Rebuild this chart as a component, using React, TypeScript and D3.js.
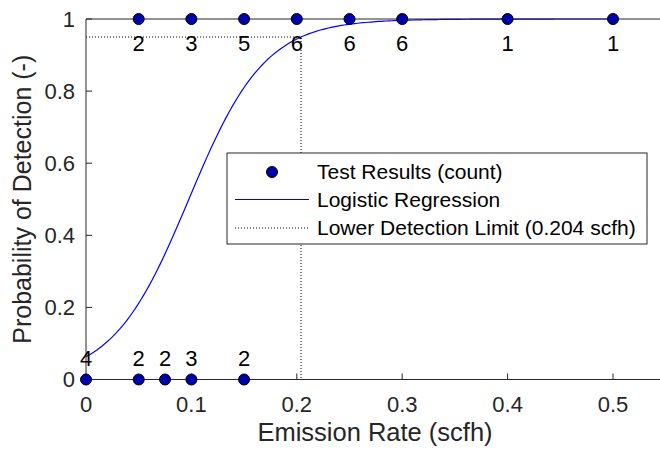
import React from "react";
import * as d3 from "d3";

// ---- data ----
const detectedRates = [0.05, 0.1, 0.15, 0.2, 0.25, 0.3, 0.4, 0.5];
const detectedCounts = [2, 3, 5, 6, 6, 6, 1, 1];
const missedRates = [0, 0.05, 0.075, 0.1, 0.15];
const missedCounts = [4, 2, 2, 3, 2];
const logisticCoefs = [-2.70, 27.67]; // intercept, slope (fitted)
const detectionLimit = 0.204;
const detectionProb = 0.95;
const xTicks = [0, 0.1, 0.2, 0.3, 0.4, 0.5];
const yTicks = [0, 0.2, 0.4, 0.6, 0.8, 1];
const legendLabels = [
  "Test Results (count)",
  "Logistic Regression",
  "Lower Detection Limit (0.204 scfh)",
];

const W = 660;
const H = 449;
const FONT = "'Liberation Sans', Arial, Helvetica, sans-serif";
const AXIS = "#262626";
const MARK = "#0000AA";

export default function App() {
  const x = d3.scaleLinear().domain([0, 0.55]).range([86, 665.7]);
  const y = d3.scaleLinear().domain([0, 1]).range([379.5, 19]);

  const curveX = d3.range(0, 0.5 + 1e-9, 0.0025);
  const logistic = (v: number) =>
    1 / (1 + Math.exp(-(logisticCoefs[0] + logisticCoefs[1] * v)));
  const line = d3
    .line<number>()
    .x((d) => x(d))
    .y((d) => y(logistic(d)));

  const lg = { x0: 227, y0: 153, x1: 647, y1: 244 };
  const rowY = [172, 199.5, 228];

  return (
    <svg
      width={W}
      height={H}
      style={{ position: "absolute", left: 0, top: 0, background: "#fff" }}
      fontFamily={FONT}
    >
      {/* dotted detection limit */}
      <path
        d={`M${x(0)},${y(detectionProb)}H${x(detectionLimit)}V${y(0)}`}
        fill="none"
        stroke="#000"
        strokeWidth={1}
        strokeDasharray="1,2"
      />
      {/* logistic curve */}
      <path d={line(curveX) || ""} fill="none" stroke="#0000FF" strokeWidth={1.2} />

      {/* axes */}
      <line x1={x(0)} x2={W} y1={y(0)} y2={y(0)} stroke={AXIS} strokeWidth={1} />
      <line x1={x(0)} x2={W} y1={y(1)} y2={y(1)} stroke={AXIS} strokeWidth={1} />
      <line x1={x(0)} x2={x(0)} y1={y(0)} y2={y(1)} stroke={AXIS} strokeWidth={1} />
      {xTicks.map((t) => (
        <g key={"xt" + t}>
          <line x1={x(t)} x2={x(t)} y1={y(0)} y2={y(0) - 6} stroke={AXIS} />
          <text
            x={x(t)}
            y={412}
            textAnchor="middle"
            fontSize={22}
            fill={AXIS}
          >
            {String(t)}
          </text>
        </g>
      ))}
      {yTicks.map((t) => (
        <g key={"yt" + t}>
          <line x1={x(0)} x2={x(0) + 6} y1={y(t)} y2={y(t)} stroke={AXIS} />
          <text
            x={75}
            y={y(t)}
            dy="0.36em"
            textAnchor="end"
            fontSize={22}
            fill={AXIS}
          >
            {String(t)}
          </text>
        </g>
      ))}
      <text
        x={375}
        y={441}
        textAnchor="middle"
        fontSize={25.5}
        fill={AXIS}
      >
        Emission Rate (scfh)
      </text>
      <text
        transform={`translate(31,${y(0.5)}) rotate(-90)`}
        textAnchor="middle"
        fontSize={25}
        fill={AXIS}
      >
        Probability of Detection (-)
      </text>

      {/* points */}
      {detectedRates.map((r, i) => (
        <g key={"d" + i}>
          <circle cx={x(r)} cy={y(1)} r={5.5} fill={MARK} stroke="#000" strokeWidth={1} />
          <text x={x(r)} y={51} textAnchor="middle" fontSize={22} fill="#000">
            {detectedCounts[i]}
          </text>
        </g>
      ))}
      {missedRates.map((r, i) => (
        <g key={"m" + i}>
          <circle cx={x(r)} cy={y(0)} r={5.5} fill={MARK} stroke="#000" strokeWidth={1} />
          <text x={x(r)} y={366} textAnchor="middle" fontSize={22} fill="#000">
            {missedCounts[i]}
          </text>
        </g>
      ))}

      {/* legend */}
      <rect
        x={lg.x0}
        y={lg.y0}
        width={lg.x1 - lg.x0}
        height={lg.y1 - lg.y0}
        fill="#fff"
        stroke={AXIS}
        strokeWidth={1}
      />
      <circle cx={272} cy={rowY[0]} r={5.5} fill={MARK} stroke="#000" />
      <line x1={235} x2={309} y1={rowY[1]} y2={rowY[1]} stroke="#0000FF" strokeWidth={1.2} />
      <line
        x1={235}
        x2={309}
        y1={rowY[2]}
        y2={rowY[2]}
        stroke="#000"
        strokeDasharray="1,2"
      />
      {legendLabels.map((l, i) => (
        <text key={l} x={317} y={rowY[i]} dy="0.35em" fontSize={21} fill="#000">
          {l}
        </text>
      ))}
    </svg>
  );
}
